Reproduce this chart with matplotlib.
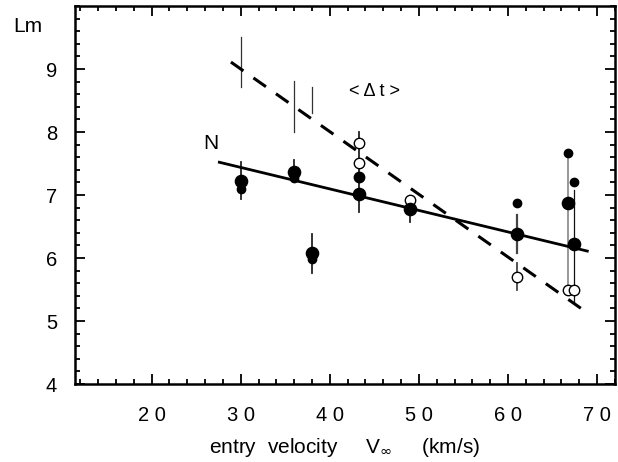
import numpy as np
import matplotlib.pyplot as plt
from matplotlib.ticker import MultipleLocator

plt.rcParams['font.family'] = ['Liberation Sans', 'DejaVu Sans']

# big filled circles (Lm from N)
big_v = [30.0, 36.0, 38.0, 43.3, 49.0, 61.0, 66.7, 67.4]
big_L = [7.22, 7.37, 6.08, 7.02, 6.78, 6.38, 6.87, 6.22]

# medium filled circle
mid_v = [43.3]
mid_L = [7.29]

# small filled circles
small_v = [30.0, 36.0, 38.0, 61.0, 66.7, 67.4]
small_L = [7.10, 7.27, 5.98, 6.87, 7.67, 7.21]

# open circles (Lm from <dt>)
open_v = [43.3, 43.3, 49.0, 61.0, 66.7, 67.4]
open_L = [7.82, 7.51, 6.92, 5.70, 5.50, 5.50]

# vertical error bars: v, low, high, colour, width
bar_v = [30.0, 30.0, 36.0, 36.0, 38.0, 38.0, 43.3, 49.0, 61.0, 61.0, 66.7, 67.4]
bar_lo = [6.94, 8.71, 7.20, 8.00, 8.30, 5.76, 6.73, 6.57, 6.08, 5.49, 5.50, 5.29]
bar_hi = [7.53, 9.51, 7.55, 8.81, 8.71, 6.38, 8.00, 6.92, 6.68, 5.92, 7.67, 7.08]
bar_col = ['#222222', '#333333', '#222222', '#333333', '#333333', '#222222',
           '#222222', '#222222', '#444444', '#444444', '#999999', '#111111']
bar_lw = [1.3, 0.9, 1.3, 0.9, 0.9, 1.3, 1.3, 1.3, 1.6, 1.3, 1.4, 0.9]

# fitted lines
fitN_v = [27.6, 68.9]
fitN_L = [7.52, 6.11]
fitdt_v = [28.9, 68.9]
fitdt_L = [9.11, 5.13]

xticks = [20, 30, 40, 50, 60, 70]
xticklabels = ['2 0', '3 0', '4 0', '5 0', '6 0', '7 0']
yticks = [4, 5, 6, 7, 8, 9]

fig = plt.figure(figsize=(6.18, 4.62), dpi=100)
ax = fig.add_axes([0.1214, 0.1688, 0.995 - 0.1214, 0.987 - 0.1688])

for v, lo, hi, c, lw in zip(bar_v, bar_lo, bar_hi, bar_col, bar_lw):
    ax.plot([v, v], [lo, hi], color=c, lw=lw, zorder=2)

ax.plot(fitN_v, fitN_L, color='black', lw=2.0, zorder=3)
ax.plot(fitdt_v, fitdt_L, color='black', lw=2.2, dashes=(5, 4), zorder=3)

ax.plot(open_v, open_L, 'o', ms=7.5, mfc='white', mec='black', mew=1.0, zorder=4)
ax.plot(small_v, small_L, 'o', ms=6.0, color='black', zorder=5)
ax.plot(mid_v, mid_L, 'o', ms=7.5, color='black', zorder=5)
ax.plot(big_v, big_L, 'o', ms=8.8, color='black', zorder=5)

ax.text(30.0 - 3.3, 7.82, 'N', fontsize=15, ha='center', va='center')
ax.text(45.0, 8.65, '< \u0394 t >', fontsize=13, ha='center', va='center')
ax.text(-0.087, 0.947, 'Lm', transform=ax.transAxes, fontsize=15,
        ha='center', va='center')

ax.set_xlim(11.4, 72.0)
ax.set_ylim(4, 10)
ax.set_xticks(xticks)
ax.set_xticklabels(xticklabels)
ax.set_yticks(yticks)
ax.xaxis.set_minor_locator(MultipleLocator(2))
ax.yaxis.set_minor_locator(MultipleLocator(0.2))
ax.tick_params(which='both', direction='in', top=True, right=True,
               labelsize=14.5, width=1.3)
ax.tick_params(which='major', length=7)
ax.tick_params(which='minor', length=3.5)
ax.tick_params(axis='x', pad=16)
ax.tick_params(axis='y', pad=13)
for s in ax.spines.values():
    s.set_linewidth(1.8)

ax.set_xlabel('entry  velocity     V$_{\\infty}$     (km/s)', fontsize=15, labelpad=8)

fig.savefig('out.png', dpi=100)
